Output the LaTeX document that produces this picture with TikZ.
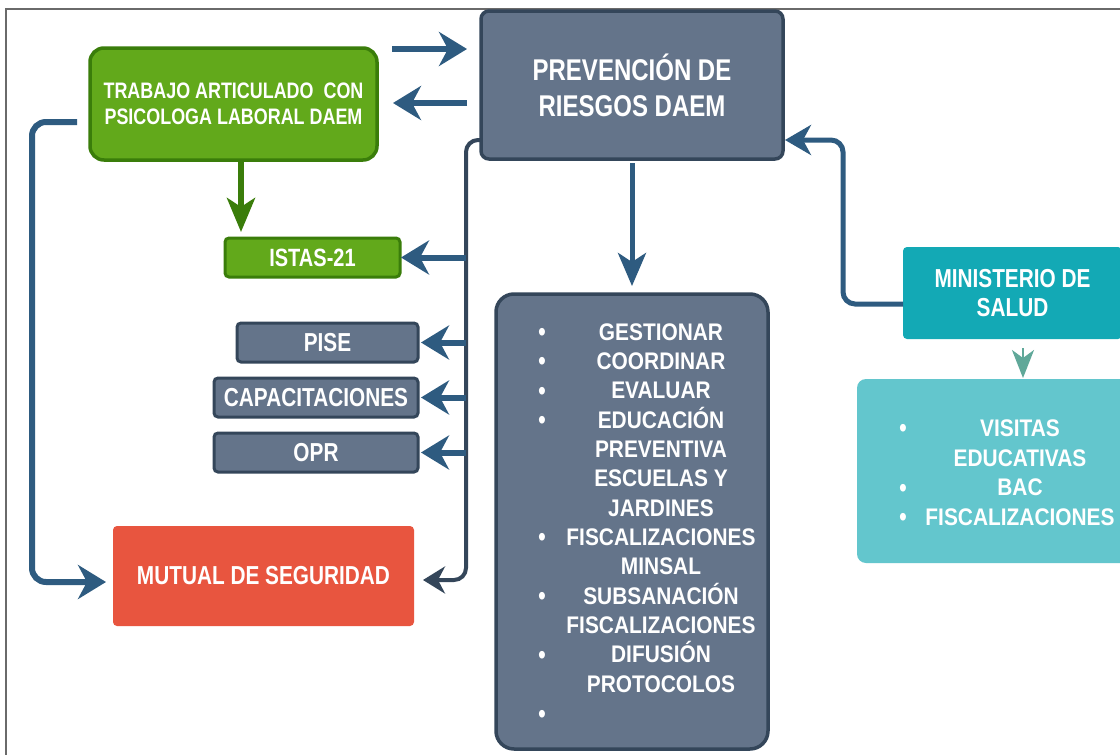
\documentclass[tikz,border=0pt]{standalone}
\usepackage{fontspec}
\setmainfont{Liberation Sans}[FakeStretch=0.8]
\newfontfamily\listf{Liberation Sans}[FakeStretch=0.87]
\usetikzlibrary{arrows.meta,calc}
\definecolor{slate}{HTML}{64748A}
\definecolor{slateb}{HTML}{34465A}
\definecolor{arrb}{HTML}{2E5B80}
\definecolor{grn}{HTML}{62A91B}
\definecolor{grnb}{HTML}{3A7D0A}
\definecolor{redb}{HTML}{E8553F}
\definecolor{tealA}{HTML}{13A9B5}
\definecolor{tealB}{HTML}{63C6CD}
\definecolor{tarr}{HTML}{60A899}
\definecolor{frame}{HTML}{6A6A6A}
\begin{document}
\begin{tikzpicture}[x=1pt,y=-1pt,
  box/.style={rectangle, inner sep=0pt, outer sep=0pt, text=white, align=center},
  slatebox/.style={box, fill=slate, draw=slateb, line width=3.5pt},
  greenbox/.style={box, fill=grn, draw=grnb, line width=3.5pt},
  barrow/.style={draw=arrb, line width=6pt, -{Stealth[length=28pt,width=34pt,inset=9pt]}},
  darkline/.style={draw=slateb, line width=4pt, rounded corners=12pt, -{Stealth[length=22pt,width=27pt,inset=7pt]}},
  garrow/.style={draw=grnb, line width=6pt, -{Stealth[length=34pt,width=28pt,inset=9pt]}},
  tarrow/.style={draw=tarr, line width=2pt, -{Stealth[length=28pt,width=22pt,inset=8pt]}},
  listtxt/.style={anchor=base, inner sep=0pt, text=white, font=\listf\bfseries\fontsize{24}{24}\selectfont},
  bul/.style={anchor=base, inner sep=0pt, text=white, yshift=-1.5pt, font=\fontsize{28}{28}\selectfont},
  lab26/.style={font=\bfseries\fontsize{26}{29.3}\selectfont}
]
\useasboundingbox (0,0) rectangle (1120,755);
\clip (0,0) rectangle (1120,755);
\fill[white] (0,0) rectangle (1120,755);
\draw[frame, line width=1.2pt] (6,760) -- (6,9) -- (1125,9);

% nodes
\node[slatebox, rounded corners=8pt, minimum width=302pt, minimum height=148pt,
  font=\bfseries\fontsize{30}{36}\selectfont] (prev) at (632,85) {PREVENCIÓN DE\\RIESGOS DAEM};
\node[greenbox, rounded corners=14pt, minimum width=287pt, minimum height=112pt,
  font=\bfseries\fontsize{22.4}{26.5}\selectfont] (trab) at (233.5,104) {TRABAJO ARTICULADO\ \ CON\\PSICOLOGA LABORAL DAEM};
\node[greenbox, line width=3pt, rounded corners=4pt, minimum width=175pt, minimum height=39pt,
  font=\bfseries\fontsize{25}{25}\selectfont] (istas) at (312.5,257.5) {ISTAS-21};
\node[slatebox, line width=3pt, rounded corners=4pt, minimum width=181pt, minimum height=39pt, lab26] (pise) at (327.5,342.5) {PISE};
\node[slatebox, line width=3pt, rounded corners=4pt, minimum width=204pt, minimum height=39pt, lab26] (capa) at (316,397.5) {CAPACITACIONES};
\node[slatebox, line width=3pt, rounded corners=4pt, minimum width=204pt, minimum height=39pt, lab26] (opr) at (316,452.5) {OPR};
\node[box, fill=redb, rounded corners=4pt, minimum width=301pt, minimum height=100pt, lab26] (mutual) at (263.5,576) {MUTUAL DE SEGURIDAD};
\node[slatebox, rounded corners=18pt, minimum width=272pt, minimum height=455pt] (list) at (632,521.5) {};
\node[box, fill=tealA, rounded corners=4pt, minimum width=219pt, minimum height=92pt, lab26] (minis) at (1012.5,293) {MINISTERIO DE\\SALUD};
\node[box, fill=tealB, rounded corners=9pt, minimum width=328pt, minimum height=184pt] (visitas) at (1021,471) {};

% list contents
\foreach \t [count=\i] in {GESTIONAR,COORDINAR,EVALUAR,EDUCACIÓN,PREVENTIVA,ESCUELAS Y,JARDINES,FISCALIZACIONES,MINSAL,SUBSANACIÓN,FISCALIZACIONES,DIFUSIÓN,PROTOCOLOS}
  \node[listtxt] (l\i) at (661,{340+(\i-1)*29.35}) {\t};
\foreach \i in {1,2,3,4,8,10,12,14}
  \node[bul] (bl\i) at (542,{340+(\i-1)*29.35}) {•};

% visitas contents
\foreach \t [count=\i] in {VISITAS,EDUCATIVAS,BAC,FISCALIZACIONES}
  \node[listtxt] (v\i) at (1020,{436.3+(\i-1)*29.7}) {\t};
\foreach \i in {1,3,4}
  \node[bul] (bv\i) at (903,{436.3+(\i-1)*29.7}) {•};

% helper coordinates
\coordinate (yA) at (0,49);
\coordinate (yB) at (0,103);
\coordinate (gx) at (241,0);
\coordinate (lft) at (32,0);
\coordinate (spine) at (466,0);
\coordinate (mx) at (843,0);
\coordinate (tx) at (1023,0);
\coordinate (mtin) at ($(mutual.west)+(0,6)$);
\coordinate (mtr) at ($(mutual.east)+(0,4)$);
\coordinate (pe) at ($(prev.east)+(0,55)$);

% connectors
\draw[barrow, shorten <=15pt, shorten >=14pt] (trab.east |- yA) -- (prev.west |- yA);
\draw[barrow, shorten <=14pt, shorten >=16pt] (prev.west |- yB) -- (trab.east |- yB);
\draw[garrow, shorten <=1pt, shorten >=6pt] (trab.south -| gx) -- (istas.north -| gx);
\draw[barrow, rounded corners=14pt, shorten >=7pt] ($(trab.west)+(-13,18)$) -| (lft |- mtin) -- (mtin);
\draw[darkline, shorten >=9pt] ($(prev.south west)+(0,-19)$) -| (spine |- mtr) -- (mtr);
\draw[barrow, shorten >=1pt] (spine |- istas.east) -- (istas.east);
\draw[barrow, shorten >=3pt] (spine |- pise.east) -- (pise.east);
\draw[barrow, shorten >=3pt] (spine |- capa.east) -- (capa.east);
\draw[barrow, shorten >=3pt] (spine |- opr.east) -- (opr.east);
\draw[barrow, line width=5pt, -{Stealth[length=33pt,width=28pt,inset=9pt]}, shorten <=4pt, shorten >=8pt] (prev.south) -- (list.north);
\draw[barrow, line width=5pt, rounded corners=12pt, -{Stealth[length=26pt,width=30pt,inset=8pt]}, shorten >=2pt] ($(minis.west)+(0,11)$) -| (mx |- pe) -- (pe);
\draw[tarrow, shorten <=9pt, shorten >=1pt] (minis.south -| tx) -- (visitas.north -| tx);
\end{tikzpicture}
\end{document}
